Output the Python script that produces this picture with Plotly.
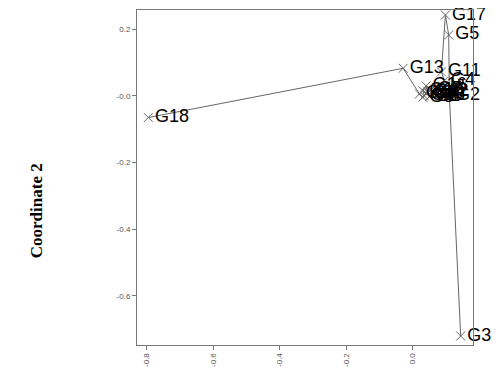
import plotly.graph_objects as go

# Genotype coordinates, in path order
labels = ["G18", "G13", "G14", "G8", "G15", "G10", "G6", "G16", "G12", "G1",
          "G7", "G9", "G4", "G11", "G17", "G5", "G2", "G3"]
coord1 = [-0.795, -0.029, 0.020, 0.030, 0.035, 0.030, 0.040, 0.040, 0.045, 0.050,
          0.055, 0.065, 0.095, 0.086, 0.098, 0.108, 0.110, 0.144]
coord2 = [-0.065, 0.083, 0.006, -0.004, 0.000, 0.016, 0.008, 0.030, 0.012, -0.002,
          0.018, 0.008, 0.045, 0.072, 0.243, 0.183, 0.000, -0.721]

x_ticks = [-0.8, -0.6, -0.4, -0.2, 0.0]
x_ticktext = ["-0.8", "-0.6", "-0.4", "-0.2", "0.0"]
y_ticks = [0.2, 0.0, -0.2, -0.4, -0.6]
y_ticktext = ["0.2", "-0.0", "-0.2", "-0.4", "-0.6"]

fig = go.Figure()
fig.add_trace(go.Scatter(
    x=coord1, y=coord2, mode="lines+markers+text",
    text=labels, textposition="middle right",
    textfont=dict(family="Liberation Sans, Arial", size=18, color="#000000"),
    line=dict(color="#666666", width=1),
    marker=dict(symbol="x-thin", size=9, line=dict(color="#666666", width=1), color="#666666"),
    showlegend=False, cliponaxis=False,
))

axis_common = dict(showline=True, mirror=True, linecolor="#777777", linewidth=1,
                   ticks="outside", ticklen=4, tickcolor="#777777",
                   showgrid=False, zeroline=False,
                   tickfont=dict(family="Liberation Sans, Arial", size=8, color="#555555"))

fig.update_layout(
    width=494, height=379,
    margin=dict(l=129, r=29, t=2, b=42),
    paper_bgcolor="white", plot_bgcolor="white",
    xaxis=dict(range=[-0.829, 0.181], tickvals=x_ticks, ticktext=x_ticktext,
               tickangle=-90, **axis_common),
    yaxis=dict(range=[-0.748, 0.258], tickvals=y_ticks, ticktext=y_ticktext,
               **axis_common),
    annotations=[dict(text="<b>Coordinate 2</b>", xref="paper", yref="paper",
                      x=-0.3, y=0.40, textangle=-90, showarrow=False,
                      xanchor="center", yanchor="middle",
                      font=dict(family="Liberation Serif, Times New Roman", size=17, color="#000000"))],
)

fig.write_html("out.html")
